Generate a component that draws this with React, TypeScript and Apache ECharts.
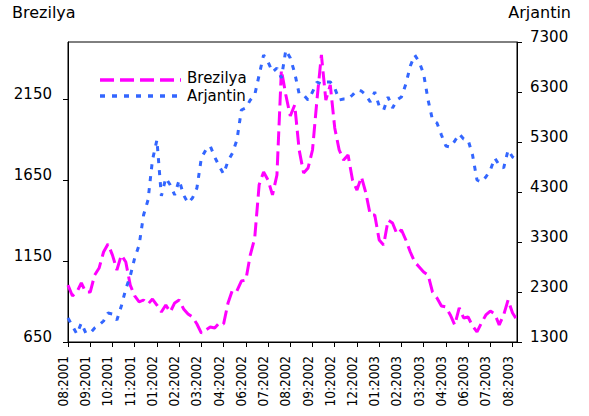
import React, { useEffect, useRef } from "react";
import * as echarts from "echarts";

const tickLabels = [
  "08:2001", "09:2001", "10:2001", "11:2001", "01:2002", "02:2002", "03:2002",
  "04:2002", "06:2002", "07:2002", "08:2002", "09:2002", "10:2002", "12:2002",
  "01:2003", "02:2003", "03:2003", "04:2003", "06:2003", "07:2003", "08:2003",
];

const brezilya = [
  1001, 934, 958, 1014, 958, 958, 1063, 1106, 1205, 1254,
  1186, 1094, 1186, 1143, 1001, 934, 897, 909, 884, 915,
  878, 835, 878, 835, 891, 909, 854, 823, 804, 761,
  705, 724, 742, 736, 767, 761, 891, 971, 965, 1026,
  1032, 1186, 1291, 1620, 1698, 1649, 1557, 1680, 2327, 2173,
  2044, 2112, 1834, 1692, 1723, 1834, 2142, 2420, 2142, 2235,
  1970, 1834, 1772, 1803, 1649, 1587, 1668, 1569, 1433, 1433,
  1279, 1248, 1402, 1384, 1316, 1341, 1279, 1205, 1143, 1113,
  1082, 1063, 958, 921, 872, 866, 817, 755, 860, 798,
  804, 749, 712, 767, 817, 841, 823, 755, 817, 909,
  829, 786,
];

const arjantin = [
  1780, 1620, 1460, 1680, 1480, 1480, 1580, 1640, 1720, 1880,
  1860, 1740, 2020, 2360, 2620, 2980, 3240, 3840, 4140, 4940,
  5340, 4220, 4580, 4440, 4240, 4540, 4240, 4080, 4180, 4380,
  4980, 5140, 5220, 5000, 4820, 4660, 4920, 5080, 5340, 5940,
  5980, 6140, 6240, 6640, 7040, 6900, 6700, 6780, 6580, 7140,
  6980, 6680, 6260, 6240, 6140, 6300, 6500, 6460, 6500, 6500,
  6380, 6140, 6160, 6160, 6240, 6340, 6320, 6240, 6100, 6300,
  6020, 5940, 6200, 5980, 6140, 6200, 6460, 6820, 7040, 6900,
  6660, 6140, 5740, 5680, 5440, 5220, 5200, 5320, 5460, 5360,
  5340, 5040, 4540, 4500, 4600, 4740, 4980, 4840, 4780, 5140,
  5000, 4940,
];

const leftTicks = [650, 1150, 1650, 2150];
const rightTicks = [1300, 2300, 3300, 4300, 5300, 6300, 7300];

const STEP = 5;
const categories = brezilya.map((_, i) =>
  i % STEP === 0 ? tickLabels[i / STEP] : `${tickLabels[Math.floor(i / STEP)]}/${i % STEP}`
);

const FONT = "DejaVu Sans";
const MAGENTA = "#ff00ff";
const BLUE = "#3366ff";
const MAG_DASH = [14, 6];
const BLUE_DASH = [5, 7];

export default function App() {
  const ref = useRef<HTMLDivElement>(null);
  useEffect(() => {
    document.body.style.margin = "0";
    if (!ref.current) return;
    const chart = echarts.init(ref.current, null, { renderer: "svg" });
    chart.setOption({
      animation: false,
      backgroundColor: "#ffffff",
      textStyle: { fontFamily: FONT, color: "#000" },
      grid: {
        left: 68,
        right: 72,
        top: 42,
        bottom: 74,
        show: true,
        borderColor: "#000",
        borderWidth: 1,
        backgroundColor: "transparent",
      },
      graphic: [
        {
          type: "text",
          x: 12,
          y: 12,
          style: { text: "Brezilya", font: `16px '${FONT}'`, fill: "#000", verticalAlign: "middle" },
        },
        {
          type: "text",
          x: 571,
          y: 12,
          style: {
            text: "Arjantin",
            font: `16px '${FONT}'`,
            fill: "#000",
            align: "right",
            verticalAlign: "middle",
          },
        },
        {
          type: "line",
          shape: { x1: 100, y1: 80, x2: 181, y2: 80 },
          style: { stroke: MAGENTA, lineWidth: 3.5, lineDash: MAG_DASH },
        },
        {
          type: "line",
          shape: { x1: 100, y1: 96, x2: 181, y2: 96 },
          style: { stroke: BLUE, lineWidth: 3.5, lineDash: BLUE_DASH },
        },
        {
          type: "text",
          x: 187,
          y: 78,
          style: {
            text: "Brezilya",
            font: `15px '${FONT}'`,
            fill: "#000",
            verticalAlign: "middle",
          },
        },
        {
          type: "text",
          x: 187,
          y: 96,
          style: {
            text: "Arjantin",
            font: `15px '${FONT}'`,
            fill: "#000",
            verticalAlign: "middle",
          },
        },
      ],
      xAxis: {
        type: "category",
        data: categories,
        boundaryGap: false,
        axisLine: { lineStyle: { color: "#000", width: 1 } },
        axisTick: { show: true, interval: STEP - 1, length: 5, lineStyle: { color: "#000" } },
        axisLabel: {
          interval: STEP - 1,
          rotate: 90,
          margin: 14,
          color: "#000",
          fontFamily: "DejaVu Sans Condensed",
          fontSize: 13.5,
          verticalAlign: "bottom",
          lineHeight: 10,
        },
        splitLine: { show: false },
      },
      yAxis: [
        {
          type: "value",
          min: 650,
          max: 2500,
          position: "left",
          axisLine: { show: true, lineStyle: { color: "#000", width: 1 } },
          axisTick: { show: true, length: 5, customValues: leftTicks, lineStyle: { color: "#000" } },
          axisLabel: {
            customValues: leftTicks,
            formatter: (v: number) => String(v),
            margin: 16,
            color: "#000",
            fontFamily: FONT,
            fontSize: 15,
            verticalAlign: "bottom",
            lineHeight: 10,
          },
          splitLine: { show: false },
        },
        {
          type: "value",
          min: 1300,
          max: 7300,
          position: "right",
          axisLine: { show: true, lineStyle: { color: "#000", width: 1 } },
          axisTick: { show: true, length: 5, customValues: rightTicks, lineStyle: { color: "#000" } },
          axisLabel: {
            customValues: rightTicks,
            formatter: (v: number) => String(v),
            margin: 13,
            color: "#000",
            fontFamily: FONT,
            fontSize: 15,
            verticalAlign: "bottom",
            lineHeight: 10,
          },
          splitLine: { show: false },
        },
      ],
      series: [
        {
          name: "Brezilya",
          type: "line",
          yAxisIndex: 0,
          data: brezilya,
          symbol: "none",
          lineStyle: { color: MAGENTA, width: 3, type: MAG_DASH },
          itemStyle: { color: MAGENTA },
        },
        {
          name: "Arjantin",
          type: "line",
          yAxisIndex: 1,
          data: arjantin,
          symbol: "none",
          lineStyle: { color: BLUE, width: 3, type: BLUE_DASH },
          itemStyle: { color: BLUE },
        },
      ],
    });
    return () => chart.dispose();
  }, []);
  return <div ref={ref} style={{ width: 589, height: 416 }} />;
}
